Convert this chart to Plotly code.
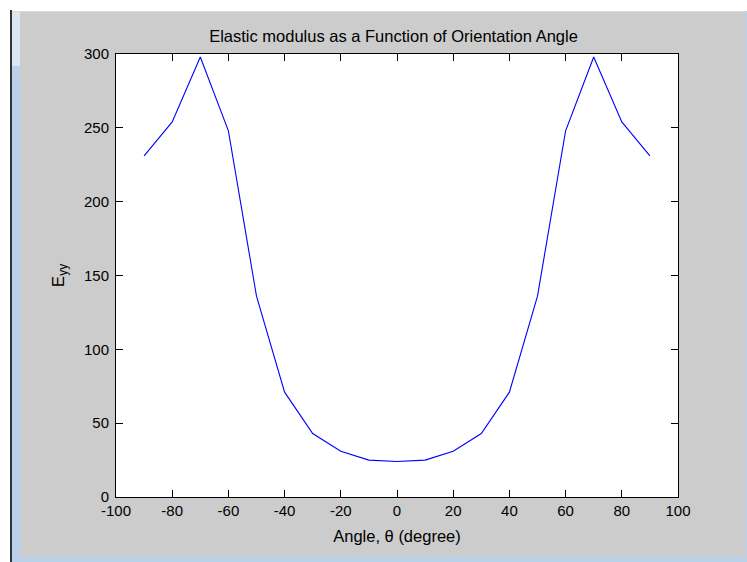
import plotly.graph_objects as go

angles = [-90, -80, -70, -60, -50, -40, -30, -20, -10, 0, 10, 20, 30, 40, 50, 60, 70, 80, 90]
eyy = [231, 254, 298, 248, 136, 71, 43, 31, 25, 24, 25, 31, 43, 71, 136, 248, 298, 254, 231]
x_ticks = [-100, -80, -60, -40, -20, 0, 20, 40, 60, 80, 100]
y_ticks = [0, 50, 100, 150, 200, 250, 300]

W, H = 747, 562
L, R, T, B = 116, 69, 54, 65
PW, PH = W - L - R, H - T - B

def px(xp):  # page x -> paper x
    return (xp - L) / PW

def py(yp):  # page y -> paper y
    return (H - B - yp) / PH

FONT = "Liberation Sans, Arial, sans-serif"

fig = go.Figure()
fig.add_trace(go.Scatter(x=angles, y=eyy, mode="lines",
                         line=dict(color="#0000FF", width=1.1), showlegend=False))

def rect(x0, y0, x1, y1, color):
    return dict(type="rect", xref="paper", yref="paper",
                x0=px(x0), x1=px(x1), y0=py(y1), y1=py(y0),
                fillcolor=color, line=dict(width=0), layer="below")

shapes = [
    rect(0, 0, 747, 11, "#FFFFFF"),
    rect(0, 0, 10, 562, "#FFFFFF"),
    rect(12, 11, 746, 12, "#DADADA"),
    rect(10, 10, 12, 562, "#333333"),
    rect(12, 12, 20, 562, "#B9D1EA"),
    rect(12, 12, 20, 66, "#DCE7F5"),
    rect(12, 557, 747, 562, "#B9D1EA"),
    rect(746, 12, 747, 557, "#B9D1EA"),
]

axis_common = dict(
    showgrid=False, zeroline=False, showline=True, linecolor="#000000", linewidth=1,
    mirror="ticks", ticks="inside", ticklen=7, tickwidth=1, tickcolor="#000000",
    tickfont=dict(family=FONT, size=15, color="#000000"),
)

fig.update_layout(
    width=W, height=H,
    margin=dict(l=L, r=R, t=T, b=B),
    paper_bgcolor="#CCCCCC", plot_bgcolor="#FFFFFF",
    shapes=shapes,
    title=dict(text="Elastic modulus as a Function of Orientation Angle",
               x=px(393.5), xref="paper", y=1 - 36 / H, yref="container",
               xanchor="center", yanchor="middle",
               font=dict(family=FONT, size=16.5, color="#000000")),
    xaxis=dict(range=[-100, 100], tickvals=x_ticks, ticktext=[str(v) for v in x_ticks],
               title=dict(text="Angle, θ (degree)", standoff=12,
                          font=dict(family=FONT, size=16.5, color="#000000")),
               **axis_common),
    yaxis=dict(range=[0, 300], tickvals=y_ticks, ticktext=[str(v) for v in y_ticks],
               ticklabelstandoff=3,
               title=dict(text="E<sub>yy</sub>", standoff=15,
                          font=dict(family=FONT, size=17, color="#000000")),
               **axis_common),
)

fig.write_html(
    "out.html",
    config={"displayModeBar": False},
    post_script="document.body.style.margin='0';document.body.style.overflow='hidden';",
)
